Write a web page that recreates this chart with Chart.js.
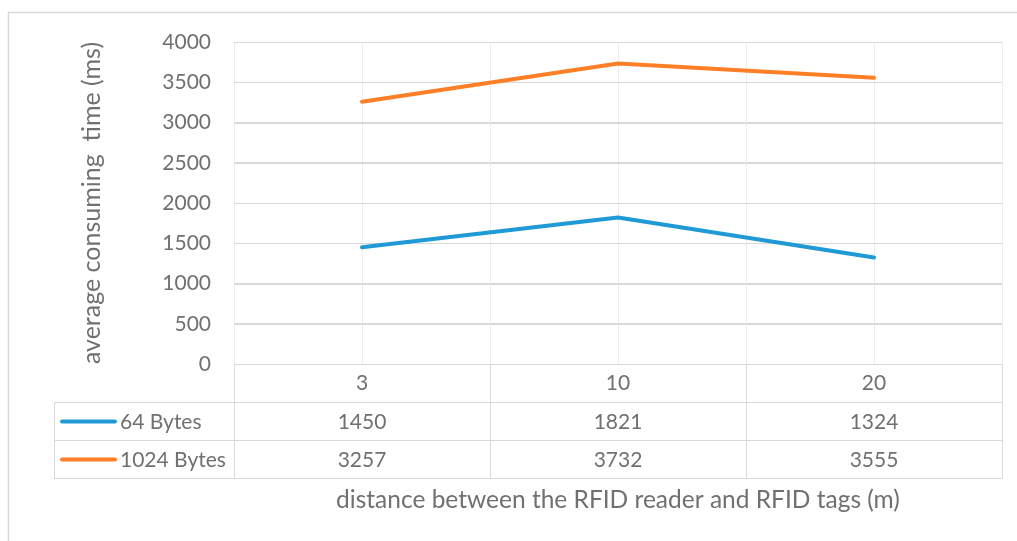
<!DOCTYPE html>
<html>
<head>
<meta charset="utf-8">
<script src="https://cdn.jsdelivr.net/npm/chart.js@4"></script>
<style>
  html, body { margin: 0; padding: 0; background: #ffffff; }
  #wrap { width: 1017px; height: 541px; position: relative; }
</style>
</head>
<body>
<div id="wrap"><canvas id="c" width="1017" height="541"></canvas></div>
<script>
// ---- data ----
const categories = ['3', '10', '20'];
const seriesNames = ['64 Bytes', '1024 Bytes'];
const bytes64 = [1450, 1821, 1324];
const bytes1024 = [3257, 3732, 3555];
const yTickValues = [0, 500, 1000, 1500, 2000, 2500, 3000, 3500, 4000];
const yTitle = 'average consuming  time (ms)';
const xTitle = 'distance between the RFID reader and RFID tags (m)';

// ---- styles ----
const FONT = 'Lato, "Open Sans", sans-serif';
const TEXT = '#707070';
const BLUE = '#1F9AD6';
const ORANGE = '#FF7F27';
const GRID_H = '#d9d9d9';
const GRID_V = '#ececec';
const TABLE = '#d9d9d9';
const ROW_H = 38;
const TABLE_LEFT = 54;

const seriesData = [bytes64, bytes1024];
const seriesColors = [BLUE, ORANGE];

const tablePlugin = {
  id: 'dataTable',
  beforeDraw(chart) {
    const ctx = chart.ctx;
    ctx.save();
    ctx.fillStyle = '#ffffff';
    ctx.fillRect(0, 0, chart.width, chart.height);
    ctx.strokeStyle = '#d9d9d9';
    ctx.lineWidth = 1.5;
    ctx.strokeRect(8.5, 12.5, 1200, 700);
    ctx.restore();
  },
  beforeDatasetsDraw(chart) {
    const ctx = chart.ctx;
    const x = chart.scales.x;
    const area = chart.chartArea;
    const n = categories.length;
    const step = (area.right - area.left) / n;
    ctx.save();
    ctx.lineWidth = 1;
    ctx.strokeStyle = GRID_V;
    for (let i = 0; i <= n; i++) {
      const px = Math.round(area.left + i * step) + 0.5;
      ctx.beginPath();
      ctx.moveTo(px, area.top);
      ctx.lineTo(px, area.bottom);
      ctx.stroke();
    }
    const y = chart.scales.y;
    ctx.strokeStyle = GRID_H;
    yTickValues.forEach(v => {
      const py = Math.round(y.getPixelForValue(v)) + 0.5;
      ctx.beginPath();
      ctx.moveTo(area.left, py);
      ctx.lineTo(area.right, py);
      ctx.stroke();
    });
    const top = Math.round(area.bottom) + 0.5;
    const r1 = top + ROW_H, r2 = r1 + ROW_H, r3 = r2 + ROW_H;
    ctx.strokeStyle = TABLE;
    ctx.beginPath();
    ctx.moveTo(area.left, top); ctx.lineTo(area.right, top);
    ctx.moveTo(TABLE_LEFT, r1); ctx.lineTo(area.right, r1);
    ctx.moveTo(TABLE_LEFT, r2); ctx.lineTo(area.right, r2);
    ctx.moveTo(TABLE_LEFT, r3); ctx.lineTo(area.right, r3);
    ctx.moveTo(TABLE_LEFT + 0.5, r1); ctx.lineTo(TABLE_LEFT + 0.5, r3);
    for (let i = 0; i <= n; i++) {
      const px = Math.round(area.left + i * step) + 0.5;
      ctx.moveTo(px, top); ctx.lineTo(px, r3);
    }
    ctx.stroke();
    ctx.font = '21px ' + FONT;
    ctx.fillStyle = TEXT;
    ctx.textBaseline = 'middle';
    seriesNames.forEach((name, si) => {
      const cy = top + ROW_H * (si + 1) + ROW_H / 2;
      ctx.strokeStyle = seriesColors[si];
      ctx.lineWidth = 4;
      ctx.lineCap = 'round';
      ctx.beginPath();
      ctx.moveTo(62, cy); ctx.lineTo(115, cy);
      ctx.stroke();
      ctx.textAlign = 'left';
      ctx.fillText(name, 120, cy + 1);
      ctx.textAlign = 'center';
      seriesData[si].forEach((v, ci) => {
        ctx.fillText(String(v), x.getPixelForValue(ci), cy + 1);
      });
    });
    ctx.restore();
  }
};

new Chart(document.getElementById('c'), {
  type: 'line',
  data: {
    labels: categories,
    datasets: [
      { label: seriesNames[0], data: bytes64, borderColor: BLUE, backgroundColor: BLUE,
        borderWidth: 4, pointRadius: 0, tension: 0, borderCapStyle: 'round', borderJoinStyle: 'round' },
      { label: seriesNames[1], data: bytes1024, borderColor: ORANGE, backgroundColor: ORANGE,
        borderWidth: 4, pointRadius: 0, tension: 0, borderCapStyle: 'round', borderJoinStyle: 'round' }
    ]
  },
  options: {
    responsive: false,
    animation: false,
    layout: { padding: { left: 9, right: 15, top: 42, bottom: 0 } },
    plugins: { legend: { display: false }, tooltip: { enabled: false }, title: { display: false } },
    scales: {
      x: {
        type: 'category',
        offset: true,
        grid: { offset: false, color: GRID_V, drawTicks: false },
        border: { display: false },
        ticks: { color: TEXT, font: { family: FONT, size: 21 }, padding: 7, maxRotation: 0 },
        title: { display: true, text: xTitle, color: TEXT, font: { family: FONT, size: 24.5 },
                 padding: { top: 0, bottom: 26 } },
        afterFit(scale) { scale.height = 541 - 364; }
      },
      y: {
        min: 0, max: 4000,
        afterBuildTicks(scale) { scale.ticks = yTickValues.map(v => ({ value: v })); },
        grid: { color: GRID_H, drawTicks: false },
        border: { display: false },
        ticks: { color: TEXT, font: { family: FONT, size: 21 }, padding: 23,
                 callback: (v) => String(v) },
        title: { display: true, text: yTitle, color: TEXT, font: { family: FONT, size: 25 },
                 padding: { top: 68, bottom: 0 } },
        afterFit(scale) { scale.width = 234 - 9; }
      }
    }
  },
  plugins: [tablePlugin]
});
</script>
</body>
</html>
